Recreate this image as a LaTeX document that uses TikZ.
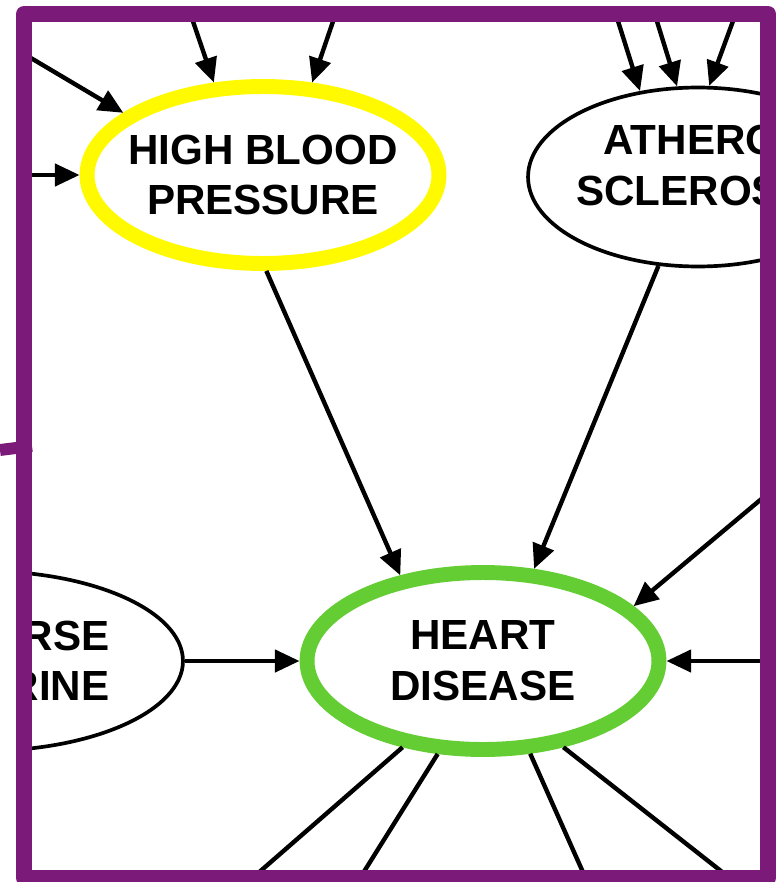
\documentclass[tikz,border=0pt]{standalone}
\usepackage{fontspec}
\setmainfont{Liberation Sans}
\usetikzlibrary{arrows.meta,shapes.geometric}
\definecolor{framepurple}{RGB}{123,26,121}
\definecolor{hdgreen}{RGB}{100,205,52}
\definecolor{hbpyellow}{RGB}{255,250,0}
\begin{document}
\begin{tikzpicture}[x=0.02cm, y=-0.02cm,
    every node/.style={font=\fontsize{24}{29}\selectfont\bfseries, align=center},
    oval/.style={ellipse, draw, inner xsep=-20pt, inner ysep=0pt, line width=2.1pt},
    link/.style={line width=2.5pt, -{Triangle[length=14pt,width=12.5pt]}},
    edge/.style={line width=2.5pt}]
  \useasboundingbox (0,0) rectangle (776,882);
  \begin{scope}
    \clip (24,14) rectangle (768,878);
    \node[oval, draw=hbpyellow, line width=8.5pt, minimum width=7.04cm, minimum height=3.54cm] (hbp) at (263,175) {HIGH BLOOD\\PRESSURE};
    \node[oval, minimum width=6.8cm, minimum height=3.58cm] (ath) at (698,177) {ATHERO-\\SCLEROSIS\\[-16pt]};
    \node[oval, draw=hdgreen, line width=8.5pt, minimum width=7.04cm, minimum height=3.54cm] (hd) at (483,661) {HEART\\DISEASE};
    \node[oval, align=right, minimum width=8cm, minimum height=3.6cm] (adv) at (-17,661) {ADVERSE\\ENDOCRINE};
    \coordinate (ina) at (-13,32);
    \coordinate (inb) at (-10,175);
    \coordinate (inc) at (185,-2);
    \coordinate (ind) at (341,-2);
    \coordinate (ine) at (612,2);
    \coordinate (inf) at (651,2);
    \coordinate (ing) at (740,2);
    \coordinate (inh) at (790,475);
    \coordinate (ini) at (790,661);
    \coordinate (outa) at (241,888);
    \coordinate (outb) at (355,886);
    \coordinate (outc) at (590,888);
    \coordinate (outd) at (740,886);
    \draw[link] (ina) -- (hbp.156);
    \draw[link] (inb) -- (hbp.west);
    \draw[link] (inc) -- (hbp.118);
    \draw[link] (ind) -- (hbp.62);
    \draw[link] (ine) -- (ath.124);
    \draw[link] (inf) -- (ath.103);
    \draw[link] (ing) -- (ath.83);
    \draw[link] (hbp.-88) -- (hd.134);
    \draw[link] (ath.-114) -- (hd.61);
    \draw[link] (inh) -- (hd.20);
    \draw[link] (ini) -- (hd.east);
    \draw[link] (adv.east) -- (hd.west);
    \draw[edge] (hd.-133) -- (outa);
    \draw[edge] (hd.-116) -- (outb);
    \draw[edge] (hd.-63) -- (outc);
    \draw[edge] (hd.-47) -- (outd);
  \end{scope}
  \draw[framepurple, line width=9.07pt, line join=round] (24,14) rectangle (768,878);
  \draw[framepurple, line width=6.8pt] (0,450) -- (32,446);
\end{tikzpicture}
\end{document}
